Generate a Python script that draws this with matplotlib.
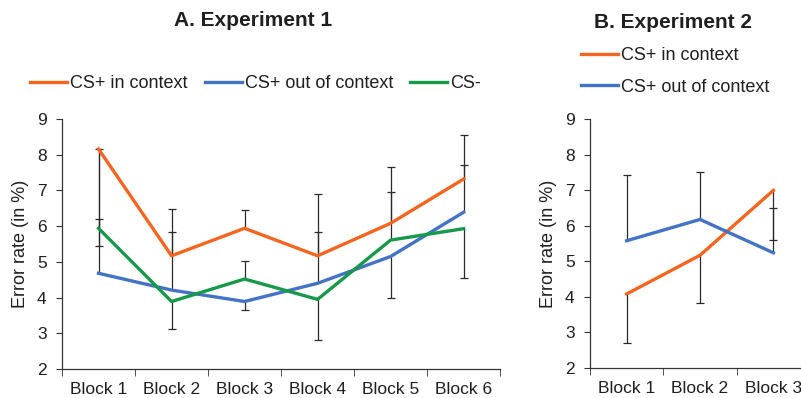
import numpy as np
from matplotlib import pyplot as plt

plt.rcParams['font.family'] = ['Liberation Sans', 'DejaVu Sans']

# Données
blocks_a = ['Block 1', 'Block 2', 'Block 3', 'Block 4', 'Block 5', 'Block 6']
in_ctx_a = [8.16, 5.17, 5.94, 5.17, 6.08, 7.32]
out_ctx_a = [4.68, 4.21, 3.89, 4.40, 5.15, 6.39]
cs_minus_a = [5.94, 3.89, 4.52, 3.95, 5.61, 5.93]

# barres d'erreur (bas, haut)
in_ctx_a_err = [[2.71, 0, 0, 0, 0, 0], [0, 1.30, 0.50, 1.72, 1.58, 1.23]]
out_ctx_a_err = [[0, 0, 0.25, 0, 1.15, 0], [3.48, 1.64, 0, 1.45, 0, 1.33]]
cs_minus_a_err = [[0, 0.77, 0, 1.13, 0, 1.37], [0.26, 0, 0.50, 0, 1.35, 0]]

blocks_b = ['Block 1', 'Block 2', 'Block 3']
in_ctx_b = [4.08, 5.17, 7.00]
out_ctx_b = [5.58, 6.18, 5.24]
in_ctx_b_err = [[1.38, 1.35, 1.40], [0, 0, 0]]
out_ctx_b_err = [[0, 0, 0], [1.86, 1.34, 1.25]]

orange = '#f4661f'
blue = '#4472c4'
green = '#17994a'
txt = '#1f1f1f'
ax_col = '#333333'

fig = plt.figure(figsize=(8.01, 3.98), dpi=100)
axA = fig.add_axes([0.0774, 0.0729, 0.547, 0.628])
axB = fig.add_axes([0.7366, 0.0760, 0.2747, 0.624])


def style(ax, labels):
    n = len(labels)
    x = np.arange(n)
    ax.set_xlim(-0.5, n - 0.5)
    ax.set_ylim(2, 9)
    ax.set_yticks(range(2, 10))
    ax.set_xticks(x)
    ax.set_xticklabels(labels)
    ax.set_xticks(np.arange(n + 1) - 0.5, minor=True)
    ax.tick_params(axis='x', which='major', length=0, pad=9.5, labelsize=12.5, labelcolor=txt)
    ax.tick_params(axis='x', which='minor', length=5, color=ax_col, direction='out')
    ax.tick_params(axis='y', length=4, color=ax_col, labelsize=12.5, labelcolor=txt, pad=7)
    for s in ['top', 'right']:
        ax.spines[s].set_visible(False)
    for s in ['left', 'bottom']:
        ax.spines[s].set_color(ax_col)
        ax.spines[s].set_linewidth(0.9)
    ax.set_ylabel('Error rate (in %)', fontsize=13, color=txt, labelpad=6)


def serie(ax, y, err, color, label):
    # courbe + barres d'erreur (seulement du côté non nul, comme dans Excel)
    x = np.arange(len(y))
    y = np.array(y)
    ax.plot(x, y, color=color, lw=2.4, label=label, zorder=3)
    low, high = np.array(err[0]), np.array(err[1])
    ax.vlines(x, y - low, y + high, color='#2a2a2a', lw=0.9, zorder=2)
    tips = np.concatenate([(y - low)[low > 0], (y + high)[high > 0]])
    xt = np.concatenate([x[low > 0], x[high > 0]])
    ax.plot(xt, tips, ls='none', marker='_', ms=6, mew=0.9, color='#2a2a2a', zorder=2)


serie(axA, in_ctx_a, in_ctx_a_err, orange, 'CS+ in context')
serie(axA, out_ctx_a, out_ctx_a_err, blue, 'CS+ out of context')
serie(axA, cs_minus_a, cs_minus_a_err, green, 'CS-')
style(axA, blocks_a)
fig.text(253 / 801, 1 - 21 / 398, 'A. Experiment 1', fontsize=15, fontweight='bold',
         color=txt, ha='center', va='center')
axA.legend(loc='center left', bbox_to_anchor=(30 / 801, 1 - 84 / 398),
           bbox_transform=fig.transFigure, ncol=3, frameon=False, borderpad=0,
           borderaxespad=0, fontsize=13, handlelength=2.05, handletextpad=0.17,
           columnspacing=0.95, labelcolor=txt)

serie(axB, in_ctx_b, in_ctx_b_err, orange, 'CS+ in context')
serie(axB, out_ctx_b, out_ctx_b_err, blue, 'CS+ out of context')
style(axB, blocks_b)
fig.text(673 / 801, 1 - 22 / 398, 'B. Experiment 2', fontsize=15, fontweight='bold',
         color=txt, ha='center', va='center')
axB.legend(loc='center left', bbox_to_anchor=(581 / 801, 1 - 71.5 / 398),
           bbox_transform=fig.transFigure, ncol=1, frameon=False, borderpad=0,
           borderaxespad=0, fontsize=13, handlelength=2.05, handletextpad=0.17,
           labelspacing=0.8, labelcolor=txt)

plt.savefig('out.png', dpi=100)
